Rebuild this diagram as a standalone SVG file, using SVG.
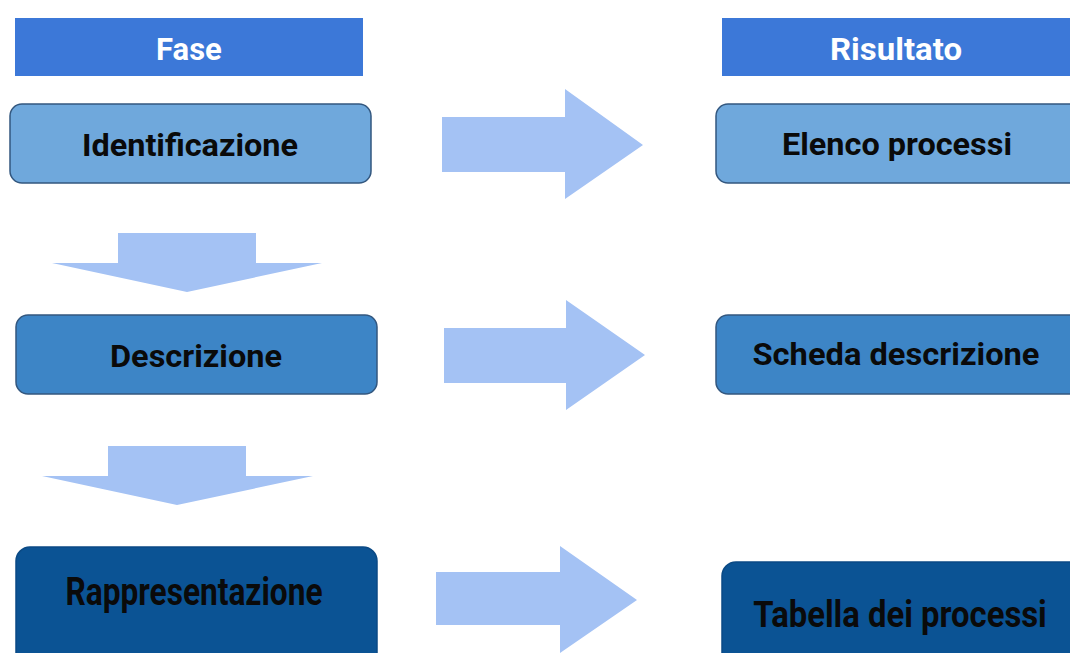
<svg xmlns="http://www.w3.org/2000/svg" width="1070" height="653" viewBox="0 0 1070 653">
<style>
.hdr{fill:#3c78d8}
.ht{font-family:Roboto,"Liberation Sans",sans-serif;font-weight:bold;fill:#ffffff;font-size:31px;text-anchor:middle}
.box{stroke:#33577f;stroke-width:1.5}
.l{fill:#6fa8dc}
.m{fill:#3d85c6}
.d{fill:#0b5394}
.ds{fill:none;stroke:#0b4a85;stroke-width:1.5}
.t{font-family:Roboto,"Liberation Sans",sans-serif;font-weight:bold;fill:#0a0a0a;text-anchor:middle}
.arr{fill:#a4c2f4}
</style>
<rect width="1070" height="653" fill="#ffffff"/>
<g id="hdr-fase"><rect class="hdr" x="15" y="18" width="348" height="58"/><text class="ht" x="189" y="60">Fase</text></g>
<g id="hdr-risultato"><rect class="hdr" x="722" y="18" width="348" height="58"/><text class="ht" x="896" y="60" textLength="132" lengthAdjust="spacingAndGlyphs">Risultato</text></g>
<g id="identificazione"><rect class="box l" x="10" y="104" width="361" height="79" rx="12"/><text class="t" x="190" y="156" font-size="31" textLength="216" lengthAdjust="spacingAndGlyphs">Identificazione</text></g>
<g id="elenco"><path class="box l" d="M1070,104 H728 A12,12 0 0 0 716,116 V171 A12,12 0 0 0 728,183 H1070"/><text class="t" x="897" y="155" font-size="31" textLength="230" lengthAdjust="spacingAndGlyphs">Elenco processi</text></g>
<g id="descrizione"><rect class="box m" x="16" y="315" width="361" height="79" rx="12"/><text class="t" x="196" y="367" font-size="31" textLength="172" lengthAdjust="spacingAndGlyphs">Descrizione</text></g>
<g id="scheda"><path class="box m" d="M1070,315 H728 A12,12 0 0 0 716,327 V382 A12,12 0 0 0 728,394 H1070"/><text class="t" x="896" y="365" font-size="31" textLength="287" lengthAdjust="spacingAndGlyphs">Scheda descrizione</text></g>
<g id="rappresentazione"><path class="d" d="M16,653 V561 A14,14 0 0 1 30,547 H363 A14,14 0 0 1 377,561 V653 Z"/><path class="ds" d="M16,653 V561 A14,14 0 0 1 30,547 H363 A14,14 0 0 1 377,561 V653"/><text class="t" x="194" y="605" font-size="39" textLength="257" lengthAdjust="spacingAndGlyphs">Rappresentazione</text></g>
<g id="tabella"><path class="d" d="M722,653 V576 A14,14 0 0 1 736,562 H1070 V653 Z"/><path class="ds" d="M722,653 V576 A14,14 0 0 1 736,562 H1070"/><text class="t" transform="matrix(0.82 0 0 1 900 627)" x="0" y="0" font-size="37" textLength="358" lengthAdjust="spacingAndGlyphs">Tabella dei processi</text></g>
<g id="connectors">
<polygon class="arr" points="118,233 256,233 256,263 322,263 187,292 52,263 118,263"/>
<polygon class="arr" points="108,446 246,446 246,476 313,476 177,505 42,476 108,476"/>
<polygon class="arr" points="442,117 565,117 565,89 643,145 565,199 565,172 442,172"/>
<polygon class="arr" points="444,328 566,328 566,300 645,355 566,410 566,383 444,383"/>
<polygon class="arr" points="436,572 560,572 560,546 637,600 560,653 560,625 436,625"/>
</g>
</svg>
